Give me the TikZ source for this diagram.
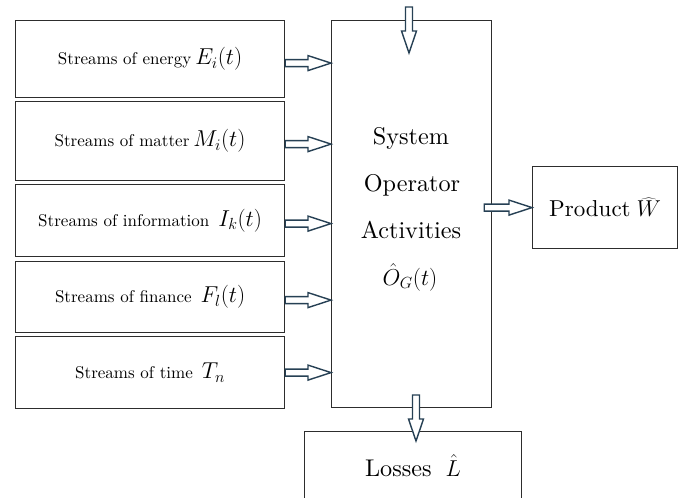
\RequirePackage{fix-cm}
\documentclass[tikz,border=0pt]{standalone}
\usepackage{graphicx}
\usetikzlibrary{calc}
\definecolor{arrowcol}{RGB}{38,64,84}
\definecolor{boxcol}{RGB}{45,45,45}
\tikzset{
  box/.style={draw=boxcol, line width=1.2pt, inner sep=0pt, fill=white},
  barrow/.style={draw=arrowcol, line width=1.4pt, fill=white, line join=miter},
  txt/.style={inner sep=0pt}
}
\newcommand\mth[1]{{\fontsize{23}{26}\selectfont$#1$}}
\newcommand\smalltxt[1]{\scalebox{1.7}{#1}}
\newcommand\bigtxt[1]{\scalebox{2.42}{#1}}
% horizontal block arrow: from p1 (its y) to x of p2
\newcommand\hblock[2]{%
  \draw[barrow] let \p1=(#1), \p2=(#2) in
    (\x1,\y1+3.5pt) -- (\x2-23pt,\y1+3.5pt) -- (\x2-23pt,\y1+7.5pt) -- (\x2,\y1)
    -- (\x2-23pt,\y1-7.5pt) -- (\x2-23pt,\y1-3.5pt) -- (\x1,\y1-3.5pt) -- cycle;}
% vertical block arrow (downwards): from p1 to y of p2
\newcommand\vblock[2]{%
  \draw[barrow] let \p1=(#1), \p2=(#2) in
    (\x1-3.5pt,\y1) -- (\x1-3.5pt,\y2+22pt) -- (\x1-7.5pt,\y2+22pt) -- (\x1,\y2)
    -- (\x1+7.5pt,\y2+22pt) -- (\x1+3.5pt,\y2+22pt) -- (\x1+3.5pt,\y1) -- cycle;}
\begin{document}
\begin{tikzpicture}[x=1pt,y=-1pt]
\useasboundingbox[fill=white] (0,0) rectangle (684,497);

% left boxes
\node[box, anchor=north west, minimum width=269pt, minimum height=77pt] (en) at (15,20) {\smalltxt{Streams of energy}\hspace{4pt}\mth{E_i(t)}};
\node[box, anchor=north west, minimum width=269pt, minimum height=79pt] (ma) at (15,101) {\smalltxt{Streams of matter}\hspace{4pt}\mth{M_i(t)}};
\node[box, anchor=north west, minimum width=269pt, minimum height=72pt] (in) at (15,184) {\smalltxt{Streams of information}\hspace{9pt}\mth{I_k(t)}};
\node[box, anchor=north west, minimum width=269pt, minimum height=71pt] (fi) at (15,261) {\smalltxt{Streams of finance}\hspace{9pt}\mth{F_l(t)}};
\node[box, anchor=north west, minimum width=269pt, minimum height=72pt] (ti) at (15,336) {\smalltxt{Streams of time}\hspace{9pt}\mth{T_n}};

% central system box
\node[box, anchor=north west, minimum width=160pt, minimum height=387pt] (sys) at (331,20) {};
\node[txt, anchor=base] (s1) at (411,145) {\bigtxt{System}};
\node[txt, anchor=base] (s2) at (412,191) {\bigtxt{Operator}};
\node[txt, anchor=base] (s3) at (411,238) {\bigtxt{Activities}};
\node[txt, anchor=base] (s4) at (410,285) {\mth{\hat{O}_G(t)}};

% product and losses
\node[box, anchor=north west, minimum width=145pt, minimum height=82pt] (prod) at (532,166) {\scalebox{2.3}{Product}\hspace{6pt}\mth{\widehat{W}}};
\node[box, anchor=north west, minimum width=217pt, minimum height=80pt] (loss) at (304,431) {};
\node[txt, anchor=base] (losst) at (413,476) {\bigtxt{Losses}\hspace{14pt}\mth{\hat{L}}};

% input arrows
\hblock{[yshift=-4pt]en.east}{sys.west}
\hblock{[yshift=-3pt]ma.east}{sys.west}
\hblock{[yshift=-3pt]in.east}{sys.west}
\hblock{[yshift=-3pt]fi.east}{sys.west}
\hblock{[yshift=0pt]ti.east}{sys.west}

% output to product
\coordinate (pstart) at ($(sys.east |- prod.west)+(-8,0)$);
\hblock{pstart}{prod.west}

% top input arrow
\coordinate (tin) at (409,7);
\coordinate (ttip) at (409,53);
\vblock{tin}{ttip}

% losses arrow
\coordinate (bin) at (416,395);
\coordinate (btip) at (416,441);
\vblock{bin}{btip}
\end{tikzpicture}
\end{document}
